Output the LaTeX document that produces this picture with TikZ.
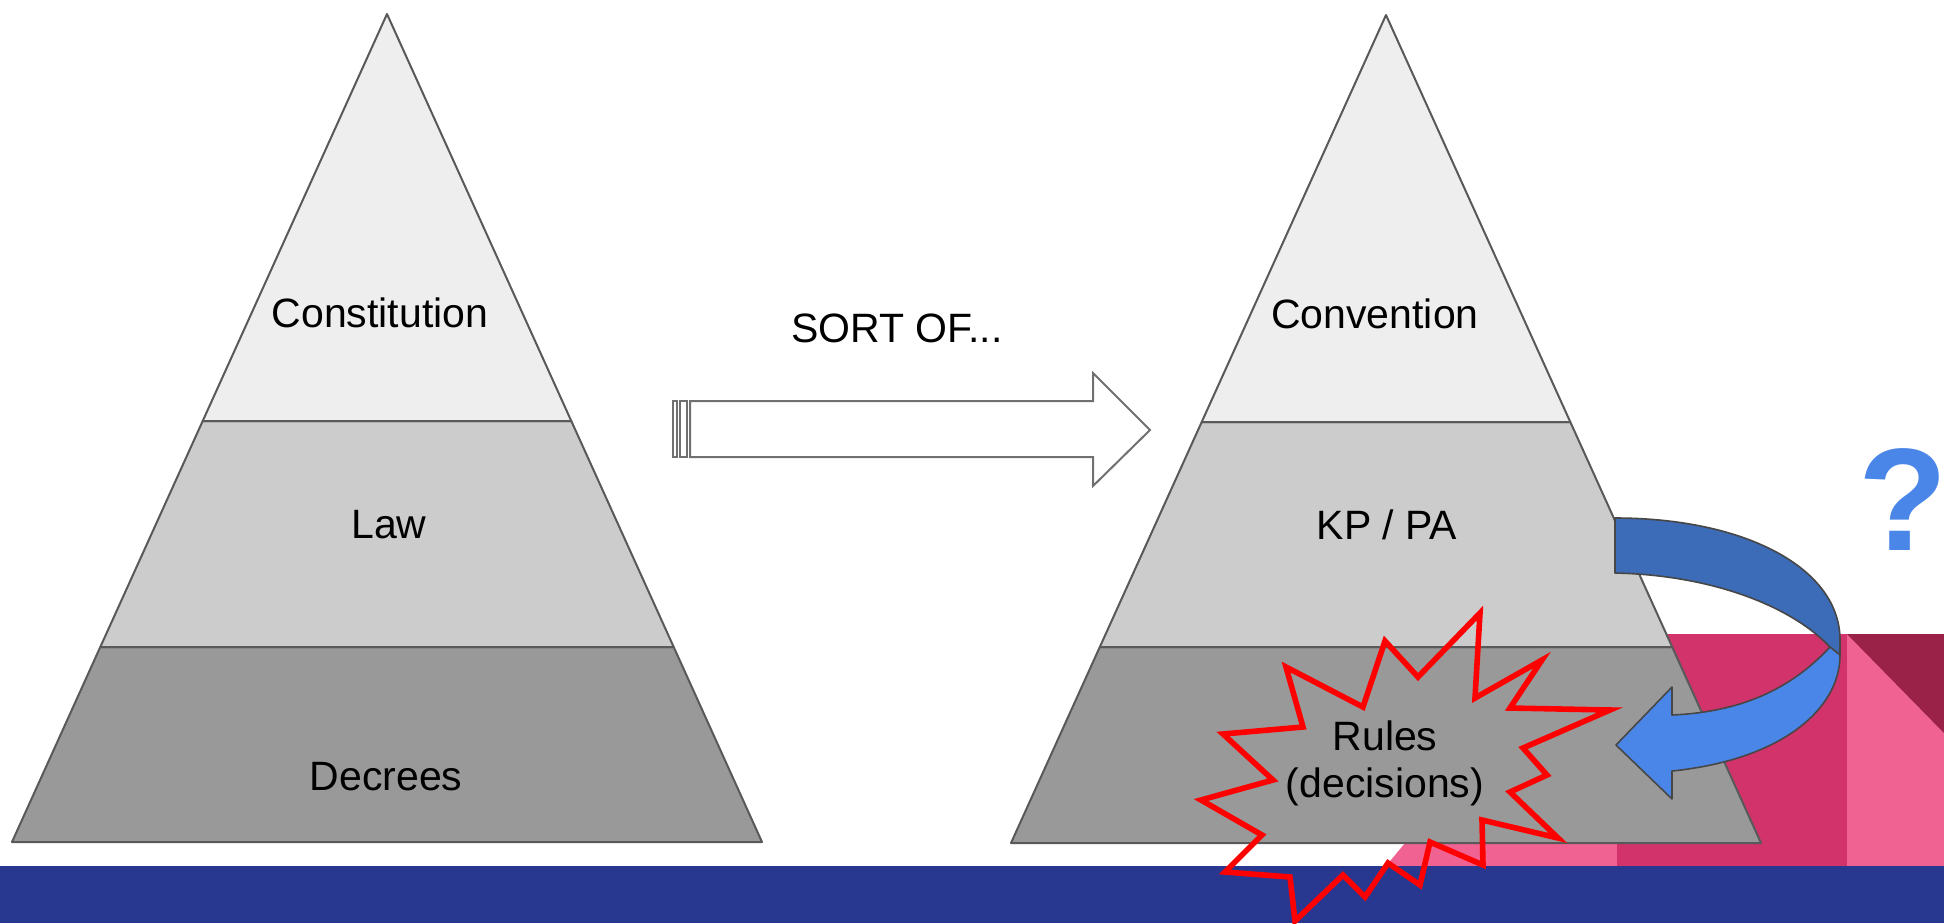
\documentclass[tikz,border=0pt]{standalone}
\usepackage{fontspec}
\setmainfont{Liberation Sans}
\definecolor{tierA}{HTML}{EEEEEE}
\definecolor{tierB}{HTML}{CCCCCC}
\definecolor{tierC}{HTML}{999999}
\definecolor{edgegray}{HTML}{595959}
\definecolor{arrowgray}{HTML}{707070}
\definecolor{bandblue}{HTML}{283891}
\definecolor{crimson}{HTML}{D1336A}
\definecolor{lightpink}{HTML}{F06292}
\definecolor{maroonc}{HTML}{9A2248}
\definecolor{ribbondark}{HTML}{3C6BB8}
\definecolor{ribbonlight}{HTML}{4A86E8}
\definecolor{starred}{HTML}{FF0000}
\begin{document}
\begin{tikzpicture}[x=0.5pt,y=-0.5pt,
  tier/.style={draw=edgegray, line width=1pt, line join=round},
  lbl/.style={font=\fontsize{20.5}{24}\selectfont, text=black, inner sep=0pt, anchor=base},
  ribbon/.style={draw=edgegray!80!black, line width=0.8pt, line join=round}]
\useasboundingbox (0,0) rectangle (1944,923);
\fill[white] (0,0) rectangle (1944,923);
% background decoration
\fill[lightpink] (1386,866) -- (1578,634) -- (1617,634) -- (1617,866) -- cycle;
\fill[crimson] (1617,634) rectangle (1847,866);
\fill[lightpink] (1847,634) rectangle (1944,866);
\fill[maroonc] (1847,634) -- (1944,634) -- (1944,733) -- cycle;
\fill[bandblue] (0,866) rectangle (1944,923);
% left pyramid
\filldraw[tier, fill=tierC] (100.3,647) -- (673.7,647) -- (762,842) -- (12,842) -- cycle;
\filldraw[tier, fill=tierB] (202.7,421) -- (571.3,421) -- (673.7,647) -- (100.3,647) -- cycle;
\filldraw[tier, fill=tierA] (387,14) -- (571.3,421) -- (202.7,421) -- cycle;
% right pyramid
\filldraw[tier, fill=tierC] (1099.8,647) -- (1672.2,647) -- (1761,843) -- (1011,843) -- cycle;
\filldraw[tier, fill=tierB] (1201.7,422) -- (1570.3,422) -- (1672.2,647) -- (1099.8,647) -- cycle;
\filldraw[tier, fill=tierA] (1386,15) -- (1570.3,422) -- (1201.7,422) -- cycle;
% striped arrow
\filldraw[draw=arrowgray, fill=white, line width=1pt] (673,401) rectangle (677,457);
\filldraw[draw=arrowgray, fill=white, line width=1pt] (680,401) rectangle (687,457);
\filldraw[draw=arrowgray, fill=white, line width=1pt, line join=miter]
  (690,401) -- (1093,401) -- (1093,373) -- (1150,430) -- (1093,486) -- (1093,457) -- (690,457) -- cycle;
% curved ribbon arrow
\filldraw[ribbon, fill=ribbondark]
  (1615,518) .. controls (1745,518) and (1840,568) .. (1840,640) -- (1840,655) -- (1830,647)
  .. controls (1790,605) and (1710,575) .. (1615,573) -- cycle;
\filldraw[ribbon, fill=ribbonlight]
  (1830,647) .. controls (1790,690) and (1740,712) .. (1672,715) -- (1672,687) -- (1616,745)
  -- (1672,799) -- (1672,771) .. controls (1780,760) and (1840,710) .. (1840,655) -- cycle;
% star
\draw[starred, line width=2.8pt, line join=miter, miter limit=10]
  (1480,613) -- (1418,677) -- (1385,641) -- (1363,707) -- (1286,667) -- (1303,727)
  -- (1223,734) -- (1273,780) -- (1201,800) -- (1262,835) -- (1225,872) -- (1290,877)
  -- (1295,921) -- (1343,875) -- (1365,897) -- (1388,863) -- (1420,885) -- (1430,842)
  -- (1483,865) -- (1482,820) -- (1558,838) -- (1510,792) -- (1547,775) -- (1523,748)
  -- (1610,710) -- (1510,708) -- (1542,660) -- (1475,698) -- cycle;
% labels
\node[lbl] (constitution) at (380,327) {Constitution};
\node[lbl] (law) at (389,538) {Law};
\node[lbl] (decrees) at (386,790) {Decrees};
\node[lbl] (sortof) at (897,342) {SORT OF...};
\node[lbl] (convention) at (1375,328) {Convention};
\node[lbl] (kppa) at (1387,539) {KP / PA};
\node[lbl] (rules) at (1385,750) {Rules};
\node[lbl] (decisions) at (1385,797) {(decisions)};
\node[font=\fontsize{73}{73}\selectfont\bfseries, text=ribbonlight, inner sep=0pt, anchor=base] (qmark) at (1903,550) {?};
\end{tikzpicture}
\end{document}
